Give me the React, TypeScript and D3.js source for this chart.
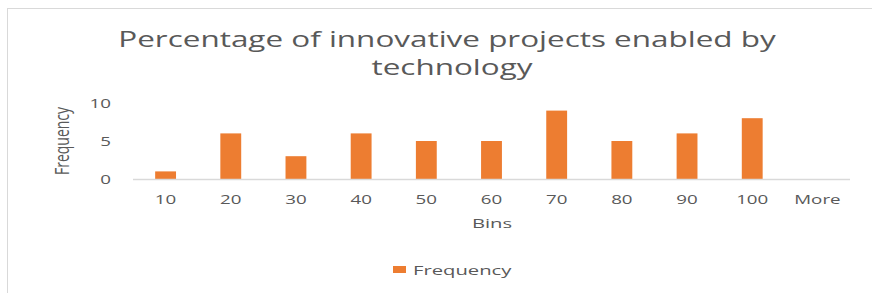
import React from 'react';
import * as d3 from 'd3';

const bins = ['10', '20', '30', '40', '50', '60', '70', '80', '90', '100', 'More'];
const frequency = [1, 6, 3, 6, 5, 5, 9, 5, 6, 8, 0];
const yTicks = [0, 5, 10];

const W = 872;
const H = 293;
const margin = { top: 103, right: 22, bottom: 114, left: 133 };

const textColor = '#595959';
const font = "'Open Sans', sans-serif";
// the reference is stretched sideways, so every label is widened
const SX = 1.5;

// text widened horizontally around its anchor point
const Wide: React.FC<{ x: number; y: number; sx?: number; size: number; anchor?: string; children: React.ReactNode }> =
  ({ x, y, sx = SX, size, anchor = 'middle', children }) => (
    <text transform={`translate(${x},${y}) scale(${sx},1)`} textAnchor={anchor} fill={textColor}
      style={{ fontFamily: font, fontSize: size }}>
      {children}
    </text>
  );

const App: React.FC = () => {
  const x = d3.scaleBand<string>()
    .domain(bins)
    .range([margin.left, W - margin.right])
    .paddingInner(0.68)
    .paddingOuter(0.34);

  const y = d3.scaleLinear()
    .domain([0, 10])
    .range([H - margin.bottom, margin.top]);

  const y0 = y(0);

  return (
    <div style={{ position: 'absolute', left: 0, top: 0 }}>
      <svg width={W} height={H} style={{ display: 'block', background: '#fff' }}>
        {/* chart area border */}
        <rect x={7.5} y={8.5} width={W + 10} height={H + 10} fill="none" stroke="#D9D9D9" />

        {/* title */}
        <Wide x={447} y={47} sx={1.43} size={22}>Percentage of innovative projects enabled by</Wide>
        <Wide x={452} y={75} sx={1.43} size={22}>technology</Wide>

        {/* y tick labels */}
        {yTicks.map(t => (
          <Wide key={t} x={111} y={y(t) + 4.5} size={12.5} anchor="end">{t}</Wide>
        ))}

        {/* y axis title */}
        <text transform={`translate(69,${141}) scale(1.4,1) rotate(-90)`} textAnchor="middle"
          fill={textColor} style={{ fontFamily: font, fontSize: 14 }}>
          Frequency
        </text>

        {/* bars */}
        {bins.map((b, i) => (
          <rect key={b} x={x(b)} y={y(frequency[i])} width={x.bandwidth()}
            height={y0 - y(frequency[i])} fill="#ED7D31" />
        ))}

        {/* baseline */}
        <line x1={margin.left} x2={W - margin.right} y1={y0 + 0.5} y2={y0 + 0.5} stroke="#D9D9D9" strokeWidth={1.5} />

        {/* x tick labels */}
        {bins.map(b => (
          <Wide key={b} x={(x(b) ?? 0) + x.bandwidth() / 2} y={204} size={12.5}>{b}</Wide>
        ))}

        {/* x axis title */}
        <Wide x={492} y={228} size={13.5}>Bins</Wide>

        {/* legend */}
        <rect x={393} y={266} width={13} height={7} fill="#ED7D31" />
        <Wide x={413} y={275} size={13.5} anchor="start">Frequency</Wide>
      </svg>
    </div>
  );
};

export default App;
